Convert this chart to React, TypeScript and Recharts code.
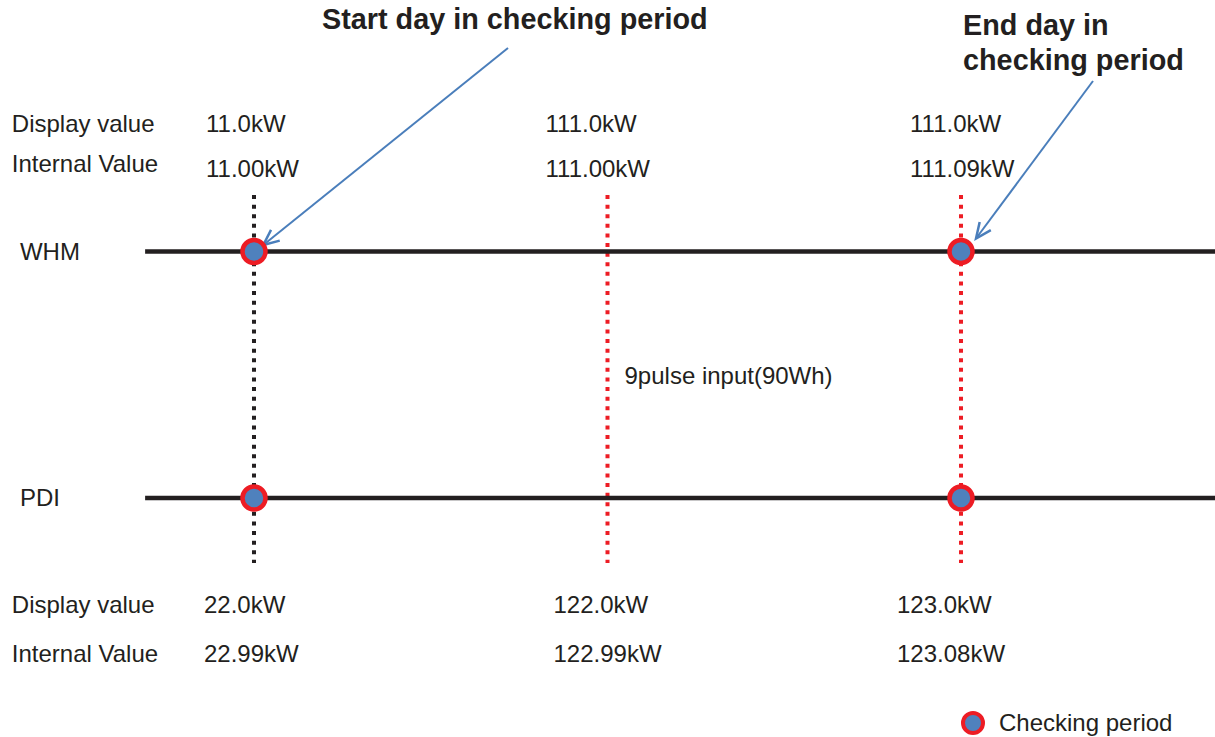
import {
  ComposedChart,
  XAxis,
  YAxis,
  ReferenceLine,
  Scatter,
  Legend,
} from "recharts";

// ---- data ----
const DAYS = ["Start day", "Pulse day", "End day"];
const METERS = ["WHM", "PDI"];
const ROW_LABELS = ["Display value", "Internal Value"];
const WHM_DISPLAY = ["11.0kW", "111.0kW", "111.0kW"];
const WHM_INTERNAL = ["11.00kW", "111.00kW", "111.09kW"];
const PDI_DISPLAY = ["22.0kW", "122.0kW", "123.0kW"];
const PDI_INTERNAL = ["22.99kW", "122.99kW", "123.08kW"];
const CHECKING_DAYS = [0, 2]; // index into DAYS
const PULSE_NOTE = "9pulse input(90Wh)";
const START_TITLE = ["Start day in checking period"];
const END_TITLE = ["End day in", "checking period"];
const LEGEND_NAME = "Checking period";

// ---- layout (x: day index, y: PDI = 0, WHM = 1) ----
const W = 1215;
const H = 737;
const X_DOMAIN: [number, number] = [-0.7185, 2.7185];
const Y_DOMAIN: [number, number] = [-0.9696, 2.0203];
const METER_LEVEL: Record<string, number> = { WHM: 1, PDI: 0 };
const LINE_FROM = -0.308;
const DOT_TOP = 1.229;
const DOT_BOTTOM = -0.264;
const LABEL_X = -0.685;
const METER_LABEL_X = -0.662;
const NUDGE_TOP = [-48, -62, -51];
const NUDGE_BOTTOM = [-50, -54, -64];
const COL_COLOR = ["#231f20", "#ed1c24", "#ed1c24"];

const FONT = "'Liberation Sans', Arial, Helvetica, sans-serif";
const TEXT = "#231f20";
const BLUE = "#4f81bd";
const RED = "#ed1c24";
const ARROW = "#4a7ebb";

type TextPt = {
  x: number;
  y: number;
  text: string;
  dx?: number;
  dy?: string;
  size?: number;
  bold?: boolean;
};

const rows = [
  { label: ROW_LABELS[0], values: WHM_DISPLAY, level: 1.485, labelLevel: 1.485, nudge: NUDGE_TOP },
  { label: ROW_LABELS[1], values: WHM_INTERNAL, level: 1.302, labelLevel: 1.3225, nudge: NUDGE_TOP },
  { label: ROW_LABELS[0], values: PDI_DISPLAY, level: -0.4665, labelLevel: -0.4665, nudge: NUDGE_BOTTOM },
  { label: ROW_LABELS[1], values: PDI_INTERNAL, level: -0.6653, labelLevel: -0.6653, nudge: NUDGE_BOTTOM },
];

const textPoints: TextPt[] = [];
rows.forEach((r) => {
  textPoints.push({ x: LABEL_X, y: r.labelLevel, text: r.label });
  r.values.forEach((v, i) =>
    textPoints.push({ x: i, y: r.level, text: v, dx: r.nudge[i] })
  );
});
METERS.forEach((m) =>
  textPoints.push({ x: METER_LABEL_X, y: METER_LEVEL[m], text: m, dy: "0.35em" })
);
textPoints.push({ x: 1, y: 0.4625, text: PULSE_NOTE, dx: 17 });
START_TITLE.forEach((t, i) =>
  textPoints.push({ x: 0.1924, y: 1.9026 - i * 0.142, text: t, size: 28.8, bold: true })
);
END_TITLE.forEach((t, i) =>
  textPoints.push({ x: 2.0057, y: 1.8783 - i * 0.142, text: t, size: 28.8, bold: true })
);

const checkPoints = METERS.flatMap((m) =>
  CHECKING_DAYS.map((d) => ({ x: d, y: METER_LEVEL[m], day: DAYS[d], meter: m }))
);

const arrows = [
  { from: { x: 0.7185, y: 1.8256 }, to: { x: 0.0263, y: 1.0264 } },
  { from: { x: 2.3734, y: 1.6917 }, to: { x: 2.0424, y: 1.0527 } },
];

const TextShape = (p: any) => {
  const d: TextPt = p.payload;
  return (
    <text
      x={p.cx}
      y={p.cy}
      dx={d.dx ?? 0}
      dy={d.dy ?? 0}
      fill={TEXT}
      fontFamily={FONT}
      fontSize={d.size ?? 24}
      fontWeight={d.bold ? 700 : 400}
      textAnchor="start"
    >
      {d.text}
    </text>
  );
};

const DotShape = (p: any) => (
  <circle cx={p.cx} cy={p.cy} r={11.5} fill={BLUE} stroke={RED} strokeWidth={4.5} />
);

const ArrowShape = (p: any) => {
  const { x1, y1, x2, y2 } = p;
  const a = Math.atan2(y2 - y1, x2 - x1);
  const len = 17;
  const s = 0.42;
  const ax = x2 - len * Math.cos(a - s);
  const ay = y2 - len * Math.sin(a - s);
  const bx = x2 - len * Math.cos(a + s);
  const by = y2 - len * Math.sin(a + s);
  return (
    <g>
      <line x1={x1} y1={y1} x2={x2} y2={y2} stroke={ARROW} strokeWidth={2} />
      <polyline
        points={`${ax},${ay} ${x2},${y2} ${bx},${by}`}
        fill="none"
        stroke={ARROW}
        strokeWidth={2.5}
      />
    </g>
  );
};

const LegendContent = (props: any) => (
  <div style={{ display: "flex", alignItems: "center", fontFamily: FONT, fontSize: 24, color: TEXT }}>
    {(props.payload || [])
      .filter((e: any) => e.type !== "none" && e.value === LEGEND_NAME)
      .map((e: any) => (
        <div key={e.value} style={{ display: "flex", alignItems: "center" }}>
          <svg width={26} height={26}>
            <circle cx={13} cy={13} r={10} fill={BLUE} stroke={RED} strokeWidth={4} />
          </svg>
          <span style={{ marginLeft: 13 }}>{e.value}</span>
        </div>
      ))}
  </div>
);

const App: React.FC = () => {
  return (
    <div style={{ position: "absolute", left: 0, top: 0, background: "#fff" }}>
      <ComposedChart width={W} height={H} margin={{ top: 0, right: 0, bottom: 0, left: 0 }}>
        <XAxis type="number" dataKey="x" domain={X_DOMAIN} allowDataOverflow hide />
        <YAxis type="number" dataKey="y" domain={Y_DOMAIN} allowDataOverflow hide />

        {DAYS.map((d, i) => (
          <ReferenceLine
            key={d}
            segment={[
              { x: i, y: DOT_TOP },
              { x: i, y: DOT_BOTTOM },
            ]}
            stroke={COL_COLOR[i]}
            strokeWidth={4}
            strokeDasharray="4 5.6"
            ifOverflow="visible"
          />
        ))}

        {METERS.map((m) => (
          <ReferenceLine
            key={m}
            segment={[
              { x: LINE_FROM, y: METER_LEVEL[m] },
              { x: X_DOMAIN[1], y: METER_LEVEL[m] },
            ]}
            stroke={TEXT}
            strokeWidth={4.5}
            ifOverflow="visible"
          />
        ))}

        {arrows.map((a, i) => (
          <ReferenceLine
            key={"arrow" + i}
            segment={[a.from, a.to]}
            ifOverflow="visible"
            shape={ArrowShape}
          />
        ))}

        <Scatter
          data={textPoints}
          legendType="none"
          shape={TextShape}
          isAnimationActive={false}
        />
        <Scatter
          name={LEGEND_NAME}
          data={checkPoints}
          legendType="circle"
          fill={BLUE}
          shape={DotShape}
          isAnimationActive={false}
        />

        <Legend
          layout="horizontal"
          verticalAlign="middle"
          align="center"
          content={LegendContent}
          wrapperStyle={{ left: 960, top: 709, width: 255, height: 26 }}
        />
      </ComposedChart>
    </div>
  );
};

export default App;
